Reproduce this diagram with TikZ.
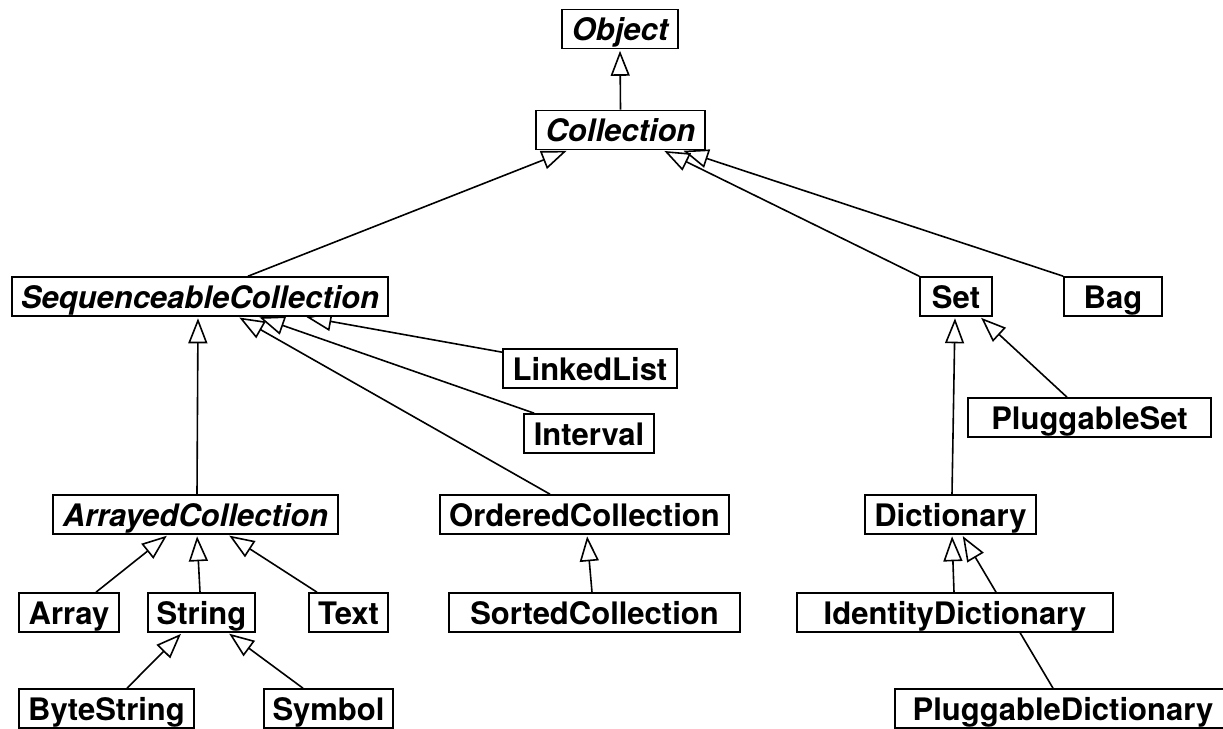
\documentclass[tikz,border=0pt]{standalone}
\usepackage{fontspec}
\setmainfont{TeX Gyre Heros}
\usetikzlibrary{arrows.meta}
\pgfdeclarelayer{background}
\pgfsetlayers{background,main}
\tikzset{
  cls/.style={draw, line width=1.6pt, fill=white, inner sep=0pt, minimum height=39pt,
    text height=23pt, text depth=0pt, font=\fontsize{31}{36}\selectfont\bfseries},
  abscls/.style={cls, font=\fontsize{31}{36}\selectfont\bfseries\itshape},
  inh/.style={line width=1.6pt, -{Triangle[open,length=25pt,width=19pt]}, shorten >=1.5pt},
}
\begin{document}
\begin{tikzpicture}[x=1pt,y=-1pt]
\useasboundingbox (0,0) rectangle (1223,728);
\clip (0,0) rectangle (1223,728);
\node[abscls, minimum width=116pt] (obj) at (620,29) {Object};
\node[abscls, minimum width=169pt] (coll) at (620.5,130) {Collection};
\node[abscls, minimum width=376pt] (seq) at (200,296.5) {SequenceableCollection};
\node[cls, minimum width=72pt] (set) at (956,296.5) {Set};
\node[cls, minimum width=98pt] (bag) at (1113,296.5) {Bag};
\node[cls, minimum width=174pt] (ll) at (590,368.5) {LinkedList};
\node[cls, minimum width=130pt] (iv) at (589,433.5) {Interval};
\node[cls, minimum width=243pt] (ps) at (1089.5,417.5) {PluggableSet};
\node[abscls, minimum width=285pt] (ac) at (195.5,514.5) {ArrayedCollection};
\node[cls, minimum width=289pt] (oc) at (584.5,514.5) {OrderedCollection};
\node[cls, minimum width=171pt] (dict) at (950.5,514.5) {Dictionary};
\node[cls, minimum width=100pt] (arr) at (69,612.5) {Array};
\node[cls, minimum width=107pt] (str) at (201.5,612.5) {String};
\node[cls, minimum width=79pt] (txt) at (348.5,612.5) {Text};
\node[cls, minimum width=291pt] (sc) at (594.5,612.5) {SortedCollection};
\node[cls, minimum width=316pt] (idd) at (955,612.5) {IdentityDictionary};
\node[cls, minimum width=175pt] (bs) at (106.5,708.5) {ByteString};
\node[cls, minimum width=129pt] (sym) at (328.5,708.5) {Symbol};
\node[cls, minimum width=336pt] (pd) at (1063,708.5) {PluggableDictionary};
\begin{pgfonlayer}{background}
\draw[inh] (coll.north) -- (obj.south);
\draw[inh] ([xshift=48pt]seq.north) -- ([xshift=-52.5pt]coll.south);
\draw[inh] (set.north west) -- ([xshift=42.5pt]coll.south);
\draw[inh] (bag.north west) -- ([xshift=61.5pt]coll.south);
\draw[inh] ([yshift=-4pt]ll.north west) -- ([xshift=105pt]seq.south);
\draw[inh] ([xshift=11pt]iv.north west) -- ([xshift=58pt]seq.south);
\draw[inh] ([xshift=-34.5pt]oc.north) -- ([xshift=38pt]seq.south);
\draw[inh] ([xshift=1.5pt]ac.north) -- ([xshift=-2pt]seq.south);
\draw[inh] ([xshift=27pt]arr.north) -- ([xshift=-27.5pt]ac.south);
\draw[inh] ([xshift=-1.5pt]str.north) -- ([xshift=1.5pt]ac.south);
\draw[inh] ([xshift=-31.5pt]txt.north) -- ([xshift=32.5pt]ac.south);
\draw[inh] ([xshift=20.5pt]bs.north) -- ([xshift=-19.5pt]str.south);
\draw[inh] ([xshift=-25.5pt]sym.north) -- ([xshift=26.5pt]str.south);
\draw[inh] ([xshift=-2.5pt]sc.north) -- ([xshift=2.5pt]oc.south);
\draw[inh] ([xshift=-22.5pt]ps.north) -- ([xshift=24pt]set.south);
\draw[inh] ([xshift=1.5pt]dict.north) -- ([xshift=-1pt]set.south);
\draw[inh] ([xshift=-1pt]idd.north) -- ([xshift=1.5pt]dict.south);
\draw[inh] ([xshift=-10pt]pd.north) -- ([xshift=11.5pt]dict.south);
\end{pgfonlayer}
\end{tikzpicture}
\end{document}
